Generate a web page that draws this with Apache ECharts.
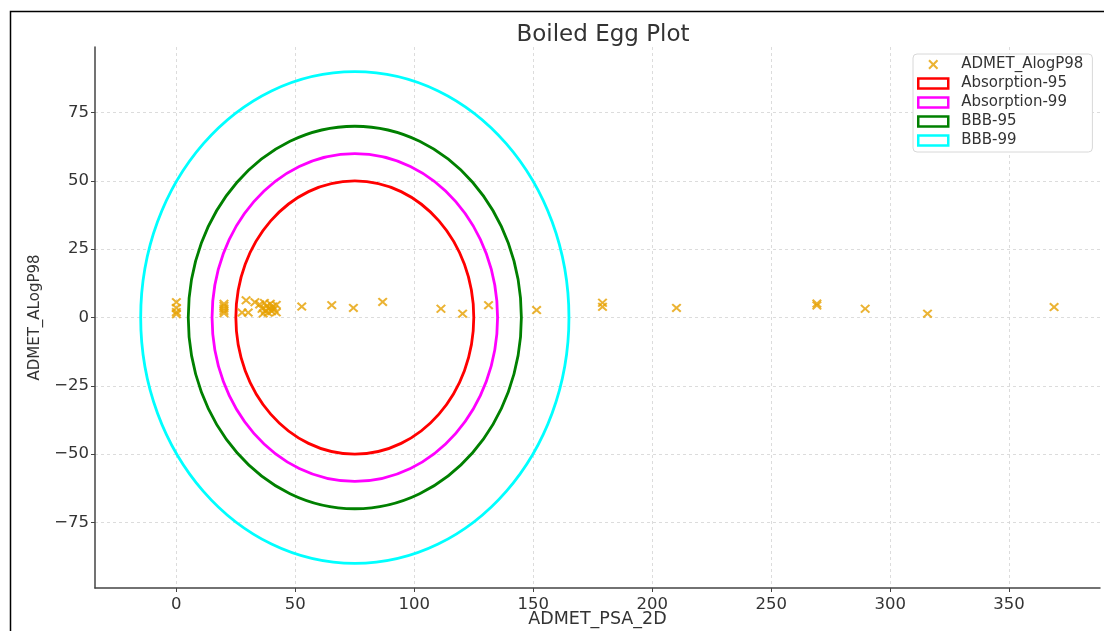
<!DOCTYPE html>
<html><head><meta charset="utf-8">
<script src="https://cdn.jsdelivr.net/npm/echarts@6/dist/echarts.min.js"></script>
<style>html,body{margin:0;padding:0;background:#fff}#c{width:1104px;height:631px}</style>
</head><body><div id="c"></div>
<script>
// Scatter data (ADMET_PSA_2D vs ADMET_AlogP98)
const psa   = [0,0,0,0, 20,20,20,20,20, 29.3,27.6,30.2,33, 35,36,36.5,37,37.5,38,38.5,39,39.5,40,40.5,41,42,42,
               52.7,65.3,74.4,86.7,111.2,120.3,131.2,151.4,179.1,179.1,210.2,269.2,269.2,289.5,315.7,368.9];
const alogp = [5.6,3.5,2.0,1.2, 5.0,4.2,3.3,2.4,1.6, 6.3,1.8,1.8,5.6, 4.8,3.2,1.5,5.3,2.5,4.2,1.8,3.3,5.0,2.3,4.0,3.0,1.9,4.6,
               4.0,4.5,3.5,5.7,3.2,1.4,4.5,2.7,5.4,3.9,3.5,5.1,4.4,3.2,1.4,3.8];
// Ellipses: name, center x, center y, width, height
const ellipseNames   = ['Absorption-95','Absorption-99','BBB-95','BBB-99'];
const ellipseCenterX = [75,75,75,75];
const ellipseCenterY = [0,0,0,0];
const ellipseWidth   = [100,120,140,180];
const ellipseHeight  = [100,120,140,180];
const ellipseColors  = ['#ff0000','#ff00ff','#008000','#00ffff'];
const xTicks = [0,50,100,150,200,250,300,350];
const yTicks = [-75,-50,-25,0,25,50,75];

const XPATH = 'path://M1.5,0 L5,3.5 L8.5,0 L10,1.5 L6.5,5 L10,8.5 L8.5,10 L5,6.5 L1.5,10 L0,8.5 L3.5,5 L0,1.5 Z';
const ORANGE = '#e6a000';
const FONT = 'DejaVu Sans';
const minus = v => String(v).replace('-', '\u2212');

const chart = echarts.init(document.getElementById('c'));
const ellipseSeries = ellipseNames.map((n,i)=>({
  name:n, type:'custom', z:2,
  data:[[ellipseCenterX[i], ellipseCenterY[i], ellipseWidth[i], ellipseHeight[i]]],
  encode:{x:0,y:1},
  itemStyle:{color:ellipseColors[i]},
  renderItem:function(params, api){
    const c = api.coord([api.value(0), api.value(1)]);
    const s = api.size([api.value(2)/2, api.value(3)/2]);
    return {type:'ellipse', shape:{cx:c[0], cy:c[1], rx:s[0], ry:s[1]},
            style:{fill:'none', stroke:ellipseColors[i], lineWidth:2.8}};
  }
}));
const axisCommon = {
  axisLine:{show:true, onZero:false, lineStyle:{color:'#444', width:1.5}},
  axisTick:{show:true, inside:false, length:4, lineStyle:{color:'#444', width:1}},
  splitLine:{show:true, lineStyle:{color:'#d4d4d4', type:[3,3], width:0.8}}
};
chart.setOption({
  animation:false,
  backgroundColor:'#fff',
  title:{text:'Boiled Egg Plot', left:598, top:19, textAlign:'center',
         textStyle:{fontFamily:FONT, fontSize:23, fontWeight:'normal', color:'#333'}},
  grid:{left:95, top:47, right:4, bottom:43, containLabel:false, outerBoundsMode:'none'},
  legend:{
    orient:'vertical', left:913, top:54, itemWidth:30, itemHeight:10, itemGap:4,
    padding:[3,9,4,4], borderColor:'#d8d8d8', borderWidth:1, borderRadius:4, backgroundColor:'#fff',
    textStyle:{fontFamily:FONT, fontSize:15, lineHeight:15, color:'#333', padding:[0,0,0,8]},
    data:[
      {name:'ADMET_AlogP98', icon:XPATH, itemStyle:{color:ORANGE}},
      ...ellipseNames.map((n,i)=>({name:n, icon:'rect', itemStyle:{color:'#fff', borderColor:ellipseColors[i], borderWidth:2.5}}))
    ]
  },
  xAxis:Object.assign({}, axisCommon, {
    type:'value', min:-34.2, max:388.2, name:'ADMET_PSA_2D', nameLocation:'middle', nameGap:22, nameMoveOverlap:false,
    nameTextStyle:{color:'#333', fontFamily:FONT, fontSize:17.5},
    axisTick:Object.assign({}, axisCommon.axisTick, {customValues:xTicks}),
    axisLabel:{customValues:xTicks, margin:8, color:'#333', fontFamily:FONT, fontSize:16.5, formatter:minus}
  }),
  yAxis:Object.assign({}, axisCommon, {
    type:'value', min:-99, max:99, name:'ADMET_ALogP98', nameLocation:'middle', nameGap:52, nameRotate:90, nameMoveOverlap:false,
    nameTextStyle:{color:'#333', fontFamily:FONT, fontSize:15},
    axisTick:Object.assign({}, axisCommon.axisTick, {customValues:yTicks}),
    axisLabel:{customValues:yTicks, margin:6, color:'#333', fontFamily:FONT, fontSize:16.5, formatter:minus}
  }),
  graphic:[{type:'rect', left:8, top:9, shape:{width:1100, height:630}, style:{fill:'none', stroke:'#000', lineWidth:1.5}, z:100}],
  series:[
    ...ellipseSeries,
    {name:'ADMET_AlogP98', type:'scatter', z:5, symbol:XPATH, symbolSize:[10,9],
     itemStyle:{color:ORANGE}, data:psa.map((x,i)=>[x, alogp[i]])}
  ]
});
</script></body></html>
